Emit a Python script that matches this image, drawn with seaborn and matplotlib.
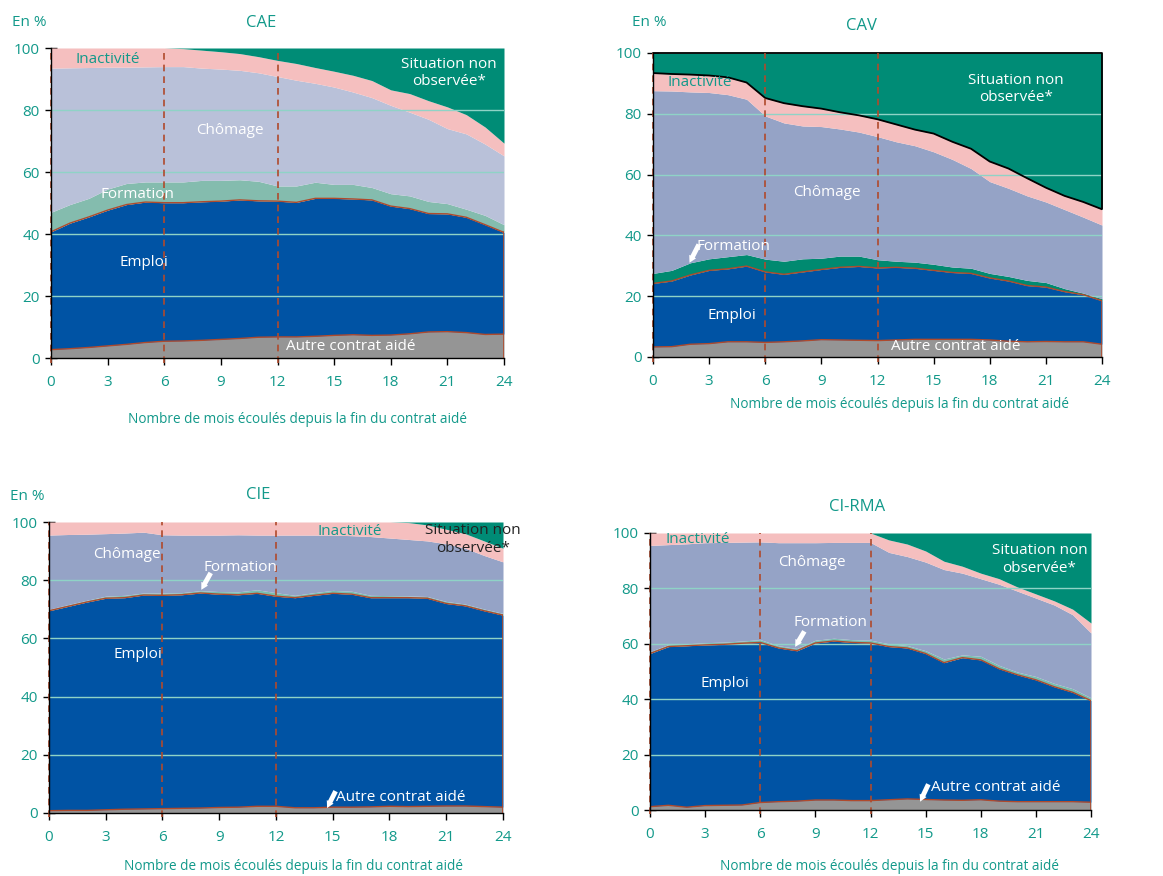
import numpy as np
import pandas as pd
import matplotlib.pyplot as plt
import seaborn as sns

sns.set_style("white")
plt.rcParams['font.family'] = ['Open Sans', 'DejaVu Sans']

mois = list(range(25))
x_ticks = [0, 3, 6, 9, 12, 15, 18, 21, 24]
y_ticks = [0, 20, 40, 60, 80, 100]
couches = ["Autre contrat aidé", "Emploi", "Formation", "Chômage", "Inactivité", "Situation non observée*"]

# Niveaux cumulés (haut de chaque couche, en %)
cae_autre = [2.7, 3.0, 3.4, 3.9, 4.4, 5.0, 5.4, 5.5, 5.7, 6.0, 6.3, 6.7, 6.8, 6.8, 7.0, 7.3, 7.5, 7.3, 7.4, 7.8, 8.4, 8.5, 8.2, 7.6, 7.7]
cae_emploi = [40.7, 43.5, 45.5, 47.7, 49.5, 50.3, 50.1, 50.1, 50.4, 50.6, 51.0, 50.7, 50.6, 50.2, 51.5, 51.5, 51.3, 51.0, 49.0, 48.2, 46.6, 46.5, 45.4, 43.0, 40.5]
cae_formation = [47.0, 49.5, 51.5, 54.5, 56.3, 56.8, 56.8, 56.8, 57.3, 57.3, 57.5, 57.0, 55.5, 55.5, 56.7, 56.0, 56.0, 55.0, 53.0, 52.3, 50.5, 49.8, 48.0, 46.0, 43.0]
cae_chomage = [93.5, 93.6, 93.7, 93.8, 93.8, 93.9, 94.0, 94.0, 93.5, 93.2, 92.8, 92.0, 90.8, 89.6, 88.6, 87.4, 85.8, 84.0, 81.5, 79.3, 77.0, 74.0, 72.3, 69.0, 65.2]
cae_inactivite = [100, 100, 100, 100, 100, 100, 100, 99.8, 99.3, 98.8, 98.2, 97.2, 96.0, 95.0, 93.7, 92.5, 91.2, 89.5, 86.5, 85.3, 83.0, 81.0, 78.5, 74.5, 69.3]

cav_autre = [3.3, 3.4, 4.2, 4.4, 5.0, 5.0, 4.8, 5.0, 5.3, 5.7, 5.6, 5.5, 5.4, 5.6, 5.8, 5.8, 5.8, 5.8, 5.6, 5.2, 5.0, 5.1, 5.0, 5.0, 4.2]
cav_emploi = [24.2, 25.0, 27.0, 28.5, 29.0, 29.9, 28.0, 27.2, 28.0, 28.8, 29.5, 29.8, 29.3, 29.5, 29.2, 28.5, 27.8, 27.5, 26.0, 25.0, 23.5, 23.0, 21.5, 20.5, 18.5]
cav_formation = [27.5, 28.5, 31.0, 32.3, 33.0, 33.7, 32.2, 31.5, 32.3, 32.5, 33.2, 33.2, 32.0, 31.5, 31.2, 30.5, 29.6, 29.2, 27.5, 26.5, 25.2, 24.5, 22.5, 21.0, 19.2]
cav_chomage = [87.6, 87.5, 87.2, 87.0, 86.3, 84.8, 79.3, 77.0, 76.0, 75.8, 75.0, 74.0, 72.5, 70.8, 69.5, 67.5, 65.0, 62.0, 57.7, 55.5, 53.0, 51.0, 48.5, 46.0, 43.4]
cav_inactivite = [93.4, 93.1, 92.9, 92.6, 92.0, 90.3, 85.2, 83.5, 82.5, 81.7, 80.5, 79.5, 78.2, 76.5, 74.8, 73.5, 70.8, 68.5, 64.3, 62.0, 58.8, 55.7, 53.0, 51.0, 48.6]

cie_autre = [0.8, 0.9, 0.9, 1.1, 1.3, 1.4, 1.5, 1.6, 1.7, 1.9, 2.0, 2.3, 2.3, 1.8, 1.8, 2.0, 2.0, 2.1, 2.3, 2.2, 2.3, 2.4, 2.4, 2.2, 2.0]
cie_emploi = [69.5, 71.0, 72.5, 73.8, 74.0, 74.9, 74.8, 75.0, 75.6, 75.2, 75.0, 75.5, 74.5, 74.0, 74.8, 75.5, 75.2, 74.0, 74.0, 74.0, 73.8, 72.0, 71.2, 69.5, 68.0]
cie_formation = [70.0, 71.6, 73.1, 74.5, 74.8, 75.6, 75.6, 75.7, 76.4, 76.1, 76.0, 76.7, 75.7, 74.8, 75.7, 76.5, 76.2, 74.8, 74.7, 74.6, 74.4, 72.7, 71.8, 70.1, 68.6]
cie_chomage = [95.5, 95.7, 95.8, 96.0, 96.2, 96.5, 95.6, 95.5, 95.5, 95.5, 95.6, 95.5, 95.5, 95.5, 95.5, 95.5, 95.3, 95.0, 94.5, 94.0, 93.5, 92.5, 91.0, 88.5, 86.3]
cie_inactivite = [100, 100, 100, 100, 100, 100, 100, 100, 100, 100, 100, 100, 100, 100, 100, 100, 100, 100, 100, 99.8, 99.0, 97.5, 96.0, 93.5, 91.0]

rma_autre = [1.2, 1.7, 1.0, 1.6, 1.7, 1.8, 2.7, 3.0, 3.2, 3.6, 3.6, 3.4, 3.4, 3.7, 4.0, 3.8, 3.6, 3.5, 3.7, 3.2, 3.0, 3.0, 3.0, 3.0, 2.8]
rma_emploi = [56.5, 59.0, 59.3, 59.6, 59.8, 60.2, 60.5, 58.5, 57.5, 60.3, 61.0, 60.5, 60.3, 59.0, 58.5, 56.5, 53.2, 55.0, 54.2, 51.0, 48.8, 47.0, 44.5, 42.5, 39.5]
rma_formation = [57.2, 59.7, 60.0, 60.4, 60.6, 61.0, 61.5, 59.3, 58.3, 61.3, 62.0, 61.5, 61.3, 60.0, 59.4, 57.5, 54.5, 56.0, 55.5, 52.2, 49.8, 48.2, 45.7, 43.8, 40.5]
rma_chomage = [95.5, 95.8, 96.1, 96.5, 96.6, 96.7, 96.8, 96.5, 96.5, 96.5, 96.6, 96.6, 96.6, 93.0, 91.5, 89.5, 86.8, 85.5, 83.5, 81.5, 79.0, 76.5, 74.0, 70.5, 63.9]
rma_inactivite = [100, 100, 100, 100, 100, 100, 100, 100, 100, 100, 100, 100, 100, 97.5, 96.0, 93.5, 89.8, 88.0, 85.5, 83.5, 80.5, 78.0, 75.5, 72.5, 67.5]

TEAL = "#12998a"
GRIS = "#959595"
BLEU = "#0053a4"
ROSE = "#f5bfbf"
VERT = "#008c76"
ROUGE = "#b04a2c"
W, H = 1163, 876

fig = plt.figure(figsize=(11.63, 8.76), dpi=100)


def px(x, y):
    return x / W, 1 - y / H


def panel(rect, tops, col_form, col_chom, cadre_noir=False):
    ax = fig.add_axes(rect)
    autre, emploi, form, chom, inact = tops
    bas = np.zeros(len(mois))
    haut = np.full(len(mois), 100.0)
    niveaux = [bas, autre, emploi, form, chom, inact, haut]
    couleurs = [GRIS, BLEU, col_form, col_chom, ROSE, VERT]
    for i, c in enumerate(couleurs):
        ax.fill_between(mois, niveaux[i], niveaux[i + 1], color=c, lw=0, zorder=1)
    # liserés rouges au haut des couches "Autre" et "Emploi"
    df = pd.DataFrame({"mois": mois, "autre": autre, "emploi": emploi})
    sns.lineplot(data=df, x="mois", y="autre", color=ROUGE, lw=1, ax=ax, zorder=3)
    sns.lineplot(data=df, x="mois", y="emploi", color=ROUGE, lw=1, ax=ax, zorder=3)
    ax.plot([24, 24], [0, emploi[-1]], color=ROUGE, lw=1.2, zorder=3)
    if cadre_noir:
        ax.plot(mois, inact, color="black", lw=1.3, zorder=3)
        ax.plot([0, 24, 24], [100, 100, inact[-1]], color="black", lw=1.3, zorder=3, clip_on=False)
    for g in [20, 40, 60, 80]:
        ax.axhline(g, color="#8fd3c6", lw=1, zorder=2)
    for v in [0, 6, 12]:
        ax.plot([v, v], [-1.5, 100], color=ROUGE, lw=1.2, ls=(0, (4, 3)), zorder=4, clip_on=False)
    ax.set_xlim(0, 24)
    ax.set_ylim(0, 100)
    ax.set_xticks(x_ticks)
    ax.set_yticks(y_ticks)
    ax.set_xlabel("")
    ax.set_ylabel("")
    for s in ["top", "right"]:
        ax.spines[s].set_visible(False)
    for s in ["left", "bottom"]:
        ax.spines[s].set_color("black")
        ax.spines[s].set_linewidth(1)
        ax.spines[s].set_zorder(5)
    ax.tick_params(axis="y", direction="inout", length=8, width=1, color="black",
                   labelcolor=TEAL, labelsize=11, pad=4, left=True)
    ax.tick_params(axis="x", direction="out", length=5, width=1, color="black",
                   labelcolor=TEAL, labelsize=11, pad=7, bottom=True)
    return ax


def fleche(ax, tip, tail):
    ax.annotate("", xy=tip, xytext=tail, zorder=6,
                arrowprops=dict(arrowstyle="simple,head_width=0.55,head_length=0.5,tail_width=0.35",
                                color="white", lw=0, shrinkA=0, shrinkB=0))


# --- CAE ---
ax1 = panel([51 / W, 1 - 358 / H, 453 / W, 310 / H],
            [cae_autre, cae_emploi, cae_formation, cae_chomage, cae_inactivite], "#84bcae", "#b9c1d9")
ax1.text(3.0, 96.3, "Inactivité", color=TEAL, fontsize=11, ha="center", va="center", zorder=6)
ax1.text(21.1, 92, "Situation non\nobservée*", color="white", fontsize=11, ha="center", va="center", zorder=6, linespacing=1.2)
ax1.text(9.5, 73.4, "Chômage", color="white", fontsize=11, ha="center", va="center", zorder=6)
ax1.text(4.6, 52.8, "Formation", color="white", fontsize=11, ha="center", va="center", zorder=6)
ax1.text(4.9, 30.7, "Emploi", color="white", fontsize=11, ha="center", va="center", zorder=6)
ax1.text(15.9, 3.6, "Autre contrat aidé", color="white", fontsize=11, ha="center", va="center", zorder=6)

# --- CAV ---
ax2 = panel([653 / W, 1 - 357 / H, 449 / W, 304 / H],
            [cav_autre, cav_emploi, cav_formation, cav_chomage, cav_inactivite], "#008a70", "#95a3c6", cadre_noir=True)
ax2.text(2.5, 90.3, "Inactivité", color=TEAL, fontsize=11, ha="center", va="center", zorder=6)
ax2.text(19.4, 88.2, "Situation non\nobservée*", color="white", fontsize=11, ha="center", va="center", zorder=6, linespacing=1.2)
ax2.text(9.3, 54, "Chômage", color="white", fontsize=11, ha="center", va="center", zorder=6)
ax2.text(4.3, 36.5, "Formation", color="white", fontsize=11, ha="center", va="center", zorder=6)
fleche(ax2, (1.95, 31.0), (2.45, 37.0))
ax2.text(4.2, 13.7, "Emploi", color="white", fontsize=11, ha="center", va="center", zorder=6)
ax2.text(16.2, 3.3, "Autre contrat aidé", color="white", fontsize=11, ha="center", va="center", zorder=6)

# --- CIE ---
ax3 = panel([49 / W, 1 - 813 / H, 454 / W, 291 / H],
            [cie_autre, cie_emploi, cie_formation, cie_chomage, cie_inactivite], "#79bfb0", "#95a3c6")
ax3.text(15.9, 96.8, "Inactivité", color=TEAL, fontsize=11, ha="center", va="center", zorder=6)
ax3.text(22.4, 94.0, "Situation non\nobservée*", color="#222222", fontsize=11, ha="center", va="center", zorder=6,
         linespacing=1.2, clip_on=False)
ax3.text(4.1, 89, "Chômage", color="white", fontsize=11, ha="center", va="center", zorder=6)
ax3.text(10.1, 84.5, "Formation", color="white", fontsize=11, ha="center", va="center", zorder=6)
fleche(ax3, (8.05, 76.7), (8.55, 82.5))
ax3.text(4.7, 54.6, "Emploi", color="white", fontsize=11, ha="center", va="center", zorder=6)
ax3.text(18.6, 5.2, "Autre contrat aidé", color="white", fontsize=11, ha="center", va="center", zorder=6)
fleche(ax3, (14.7, 1.7), (15.15, 7.5))

# --- CI-RMA ---
ax4 = panel([650 / W, 1 - 810 / H, 441 / W, 277 / H],
            [rma_autre, rma_emploi, rma_formation, rma_chomage, rma_inactivite], "#79bfb0", "#95a3c6")
ax4.text(2.6, 97.6, "Inactivité", color=TEAL, fontsize=11, ha="center", va="center", zorder=6)
ax4.text(21.2, 90.4, "Situation non\nobservée*", color="white", fontsize=11, ha="center", va="center", zorder=6, linespacing=1.2)
ax4.text(8.8, 89.5, "Chômage", color="white", fontsize=11, ha="center", va="center", zorder=6)
ax4.text(9.8, 67.7, "Formation", color="white", fontsize=11, ha="center", va="center", zorder=6)
fleche(ax4, (7.9, 58.9), (8.4, 64.5))
ax4.text(4.05, 45.7, "Emploi", color="white", fontsize=11, ha="center", va="center", zorder=6)
ax4.text(18.8, 8.0, "Autre contrat aidé", color="white", fontsize=11, ha="center", va="center", zorder=6)
fleche(ax4, (14.7, 3.0), (15.15, 9.3))

# titres, unités, libellés d'axe
xlab = "Nombre de mois écoulés depuis la fin du contrat aidé"
for (x, y, s) in [(12, 23, "En %"), (632, 23, "En %"), (10, 496, "En %")]:
    fig.text(*px(x, y), s, color=TEAL, fontsize=11, ha="left", va="center")
for (x, y, s) in [(261, 23, "CAE"), (861, 26, "CAV"), (258, 495, "CIE"), (857, 507, "CI-RMA")]:
    fig.text(*px(x, y), s, color=TEAL, fontsize=12, ha="center", va="center")
for (x, y) in [(298, 420), (900, 405), (293, 867), (889, 866)]:
    fig.text(*px(x, y), xlab, color=TEAL, fontsize=9.8, ha="center", va="center")

fig.savefig("out.png", dpi=100)
